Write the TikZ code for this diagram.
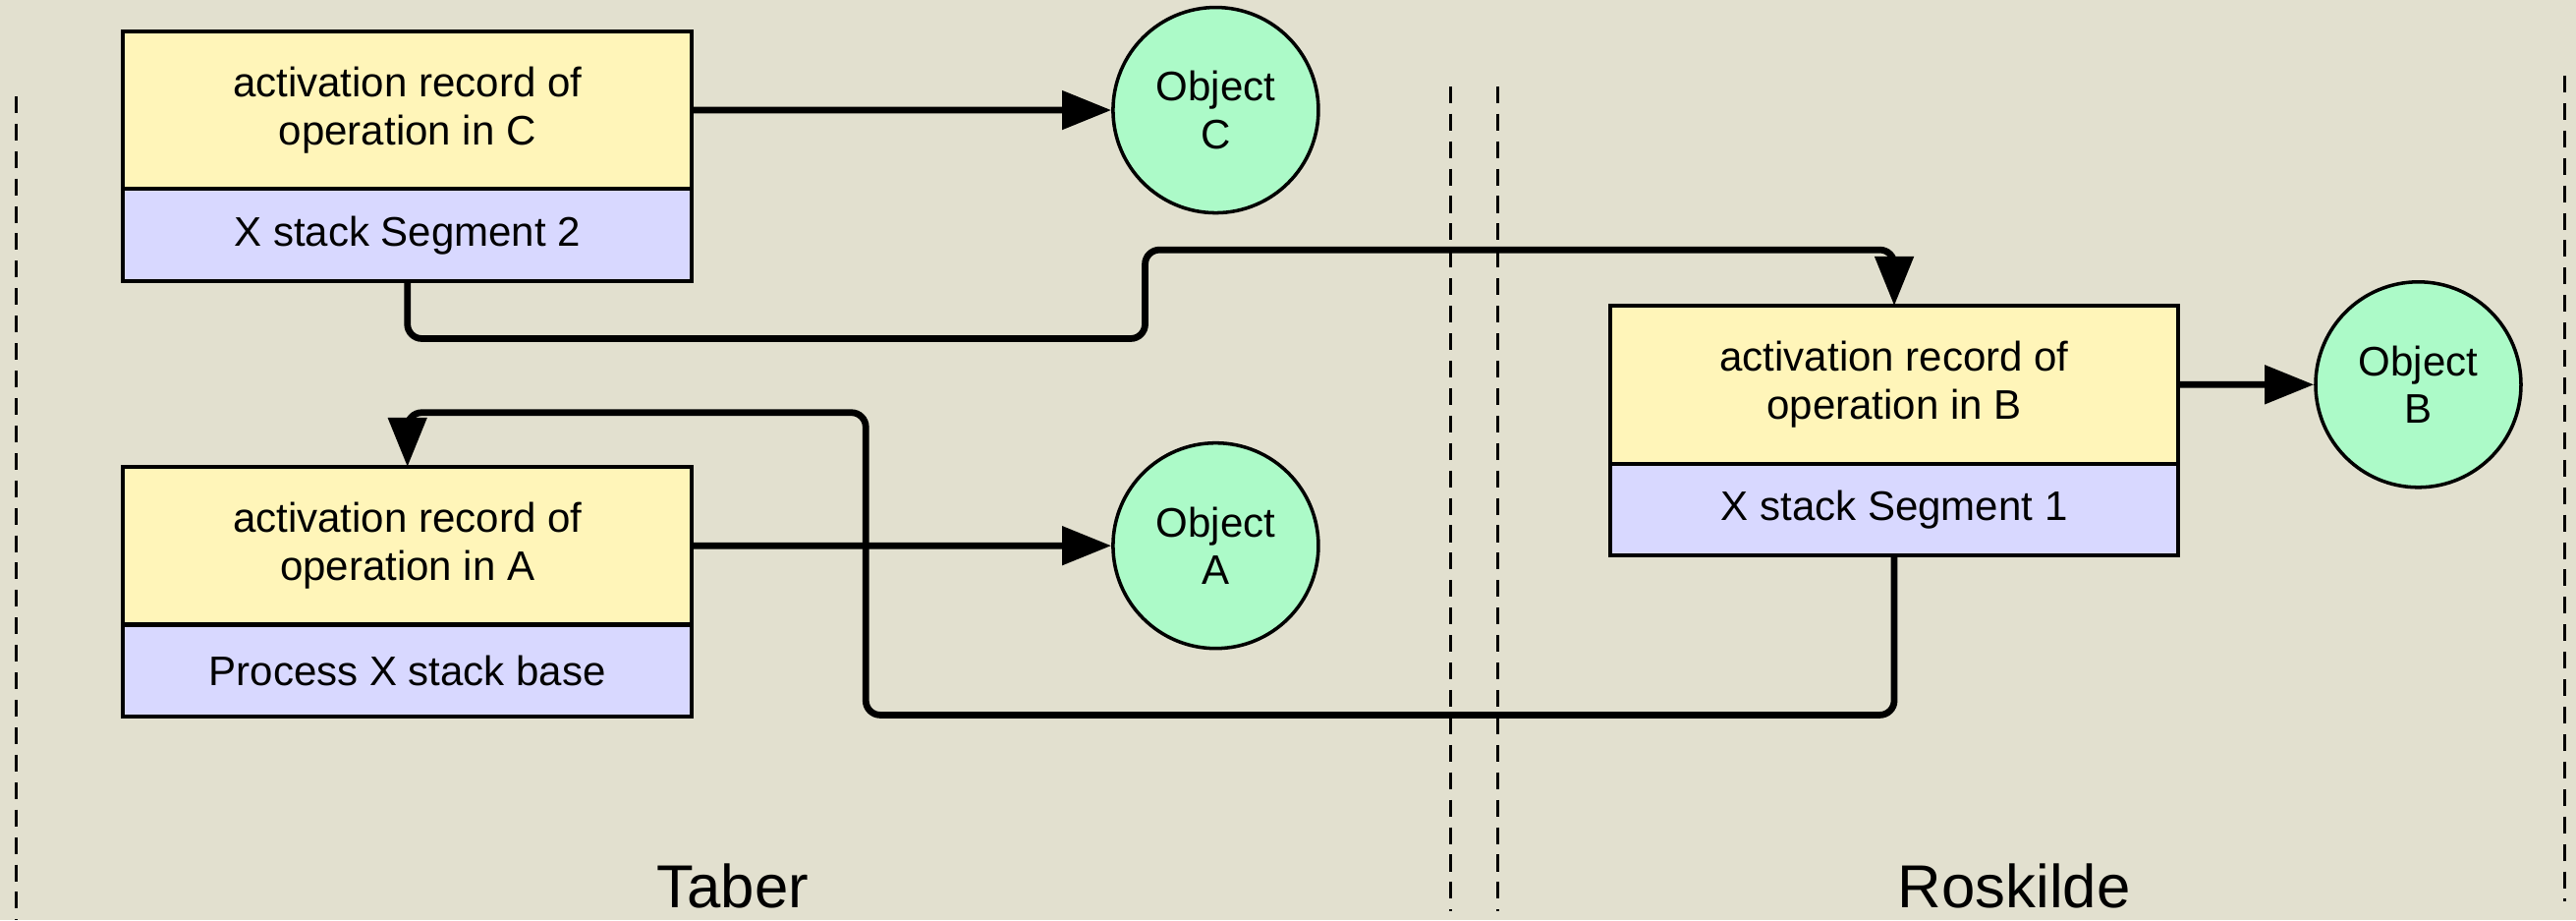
\documentclass[tikz,border=0pt]{standalone}
\usepackage{fontspec}
\setmainfont{Liberation Sans}
\definecolor{paper}{RGB}{226,224,207}
\definecolor{recyellow}{RGB}{255,245,185}
\definecolor{seglilac}{RGB}{216,216,255}
\definecolor{objgreen}{RGB}{172,250,200}
\usetikzlibrary{arrows.meta, positioning, calc}

\begin{document}
\begin{tikzpicture}[
    box/.style={draw, line width=1.4pt, font=\fontsize{14.3}{16.5}\selectfont, minimum width=6.92cm, align=center, inner sep=0pt, outer sep=0pt},
    rec/.style={box, fill=recyellow, minimum height=1.92cm},
    seg/.style={box, fill=seglilac, minimum height=1.12cm},
    obj/.style={circle, draw, line width=1.2pt, fill=objgreen, minimum size=2.5cm, inner sep=0pt, align=center, font=\fontsize{14.3}{16.5}\selectfont},
    arr/.style={-{Triangle[length=0.6cm, width=0.46cm]}, line width=2.3pt},
    link/.style={arr, rounded corners=5pt},
    border/.style={line width=1pt, dash pattern=on 5.8pt off 3.7pt},
    site/.style={font=\fontsize{21}{25}\selectfont}
]
    % Background
    \fill[paper] (0,0) rectangle (31.36,-11.196);
    \useasboundingbox (0,0) rectangle (31.36,-11.196);

    % Site borders
    \draw[border] (0.2,-1.17) -- (0.2,-11.196);
    \draw[border] (17.66,-1.05) -- (17.66,-11.09);
    \draw[border] (18.23,-1.05) -- (18.23,-11.09);
    \draw[border] (31.22,-0.92) -- (31.22,-10.97);

    % Taber: segment 2
    \node[rec, anchor=north] (recC) at (4.96,-0.38) {activation record of\\operation in C};
    \node[seg, below=0pt of recC] (segC) {X stack Segment 2};
    \node[obj] (objC) at (14.8,-1.34) {Object\\C};
    \draw[arr] (recC) -- (objC);

    % Taber: stack base
    \node[rec, anchor=north] (recA) at (4.96,-5.68) {activation record of\\operation in A};
    \node[seg, below=0pt of recA] (baseA) {Process X stack base};
    \node[obj] (objA) at (14.8,-6.64) {Object\\A};
    \draw[arr] (recA) -- (objA);

    % Roskilde: segment 1
    \node[rec, anchor=north] (recB) at (23.06,-3.72) {activation record of\\operation in B};
    \node[seg, below=0pt of recB] (segB) {X stack Segment 1};
    \node[obj] (objB) at (29.44,-4.68) {Object\\B};
    \draw[arr] (recB) -- (objB);

    % Segment links
    \draw[link] (segC.south) |- (13.94,-4.12) -- (13.94,-3.04) -| (recB.north);
    \draw[link] (segB.south) |- (10.54,-8.7) -- (10.54,-5.02) -| (recA.north);

    % Sites
    \node[site] (taber) at (8.92,-10.78) {Taber};
    \node[site] (roskilde) at (24.52,-10.78) {Roskilde};
\end{tikzpicture}
\end{document}
